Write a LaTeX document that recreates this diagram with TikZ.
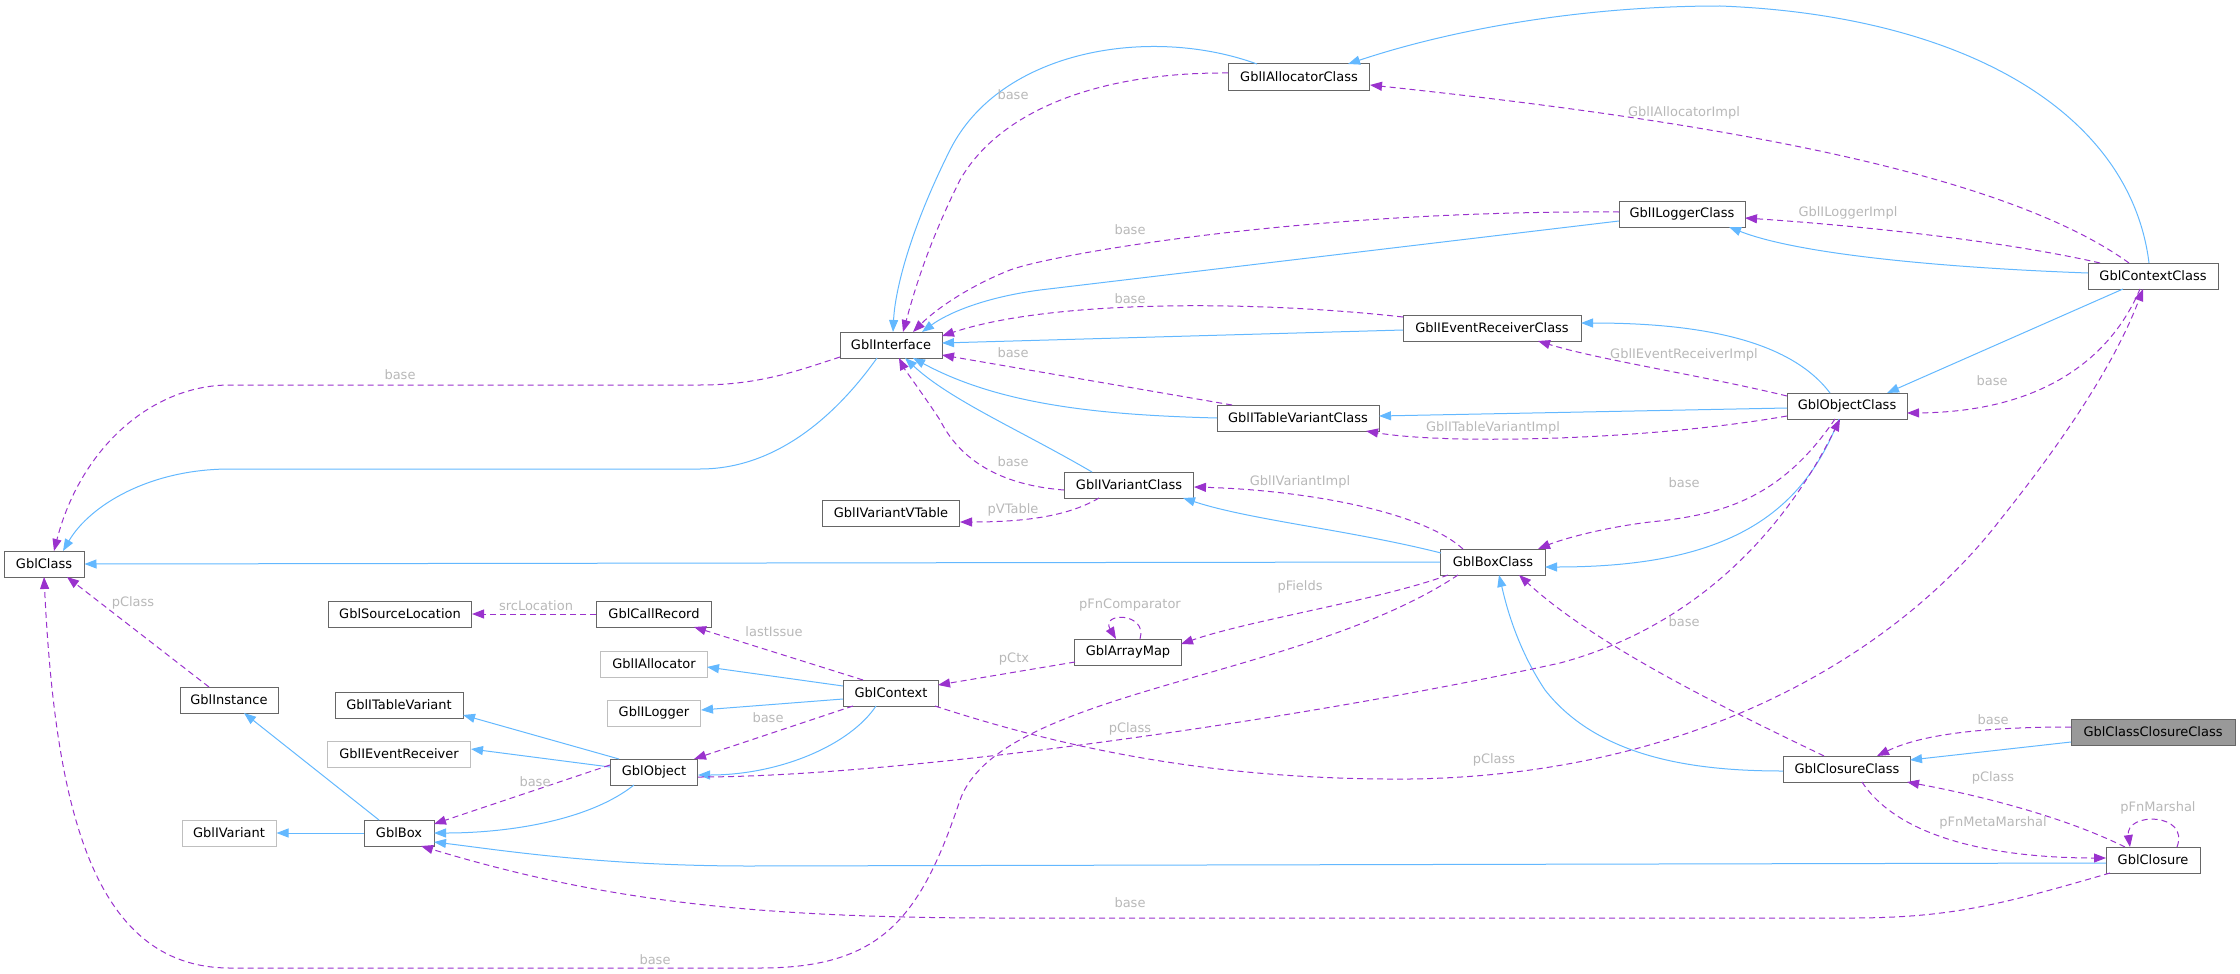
\documentclass[tikz,border=0pt]{standalone}
\usepackage{fontspec}
\setmainfont{DejaVu Sans}
\usetikzlibrary{arrows.meta,calc}
\definecolor{inh}{HTML}{63B8FF}
\definecolor{use}{HTML}{9A32CD}
\definecolor{lbl}{HTML}{B8B8B8}
\definecolor{brd}{HTML}{666666}
\definecolor{lbrd}{HTML}{BFBFBF}
\definecolor{cur}{HTML}{999999}
\begin{document}
\begin{tikzpicture}[x=1pt,y=-1pt,
  box/.style={draw=brd,line width=1pt,fill=white,minimum height=26pt,inner sep=0pt,font=\fontsize{13}{15}\selectfont},
  lbox/.style={box,draw=lbrd},
  cbox/.style={box,fill=cur},
  inhe/.style={draw=inh,line width=1pt,-{Triangle[length=12pt,width=9pt]}},
  usee/.style={draw=use,line width=1pt,dash pattern=on 6pt off 4pt,-{Triangle[length=12pt,width=9pt]}},
  el/.style={text=lbl,font=\fontsize{13}{15}\selectfont,inner sep=1pt}]
\useasboundingbox (0,0) rectangle (2240,974);
% nodes
\node[box,minimum width=80pt] (Class) at (44,564) {GblClass};
\node[box,minimum width=102pt] (Interface) at (891,345) {GblInterface};
\node[box,minimum width=141pt] (IAllocatorClass) at (1299,77) {GblIAllocatorClass};
\node[box,minimum width=126pt] (ILoggerClass) at (1682,214) {GblILoggerClass};
\node[box,minimum width=130pt] (ContextClass) at (2153,276) {GblContextClass};
\node[box,minimum width=178pt] (IEventReceiverClass) at (1492,328) {GblIEventReceiverClass};
\node[box,minimum width=120pt] (ObjectClass) at (1847,406) {GblObjectClass};
\node[box,minimum width=162pt] (ITableVariantClass) at (1298,418) {GblITableVariantClass};
\node[box,minimum width=129pt] (IVariantClass) at (1129,485) {GblIVariantClass};
\node[box,minimum width=137pt] (VTable) at (891,513) {GblIVariantVTable};
\node[box,minimum width=105pt] (BoxClass) at (1493,562) {GblBoxClass};
\node[box,minimum width=143pt] (SourceLocation) at (400,614) {GblSourceLocation};
\node[box,minimum width=115pt] (CallRecord) at (654,614) {GblCallRecord};
\node[box,minimum width=107pt] (ArrayMap) at (1128,652) {GblArrayMap};
\node[lbox,minimum width=107pt] (IAllocator) at (654,664) {GblIAllocator};
\node[lbox,minimum width=93pt] (ILogger) at (654,713) {GblILogger};
\node[box,minimum width=95pt] (Context) at (891,693) {GblContext};
\node[box,minimum width=98pt] (Instance) at (229,700) {GblInstance};
\node[box,minimum width=128pt] (ITableVariant) at (399,705) {GblITableVariant};
\node[lbox,minimum width=143pt] (IEventReceiver) at (399,754) {GblIEventReceiver};
\node[box,minimum width=87pt] (Object) at (654,772) {GblObject};
\node[lbox,minimum width=94pt] (IVariant) at (229,833) {GblIVariant};
\node[box,minimum width=70pt] (Box) at (399,833) {GblBox};
\node[box,minimum width=127pt] (ClosureClass) at (1847,769) {GblClosureClass};
\node[cbox,minimum width=164pt] (ClassClosureClass) at (2153,732) {GblClassClosureClass};
\node[box,minimum width=94pt] (Closure) at (2153,860) {GblClosure};
% inheritance edges
\draw[inhe] ($(Interface)+(-14,13)$) .. controls (840,410) and (780,469) .. (700,469) -- (230,469) .. controls (150,469) and (90,505) .. ($(Class)+(19,-13)$);
\draw[inhe] ($(IAllocatorClass)+(-42,-13)$) .. controls (1150,25) and (1000,50) .. (950,150) .. controls (910,230) and (895,290) .. ($(Interface)+(2,-13)$);
\draw[inhe] ($(ILoggerClass)+(-63,7)$) -- (1040,290) .. controls (980,298) and (945,315) .. ($(Interface)+(31,-13)$);
\draw[inhe] ($(IEventReceiverClass)+(-89,2)$) -- ($(Interface)+(51,-2)$);
\draw[inhe] ($(ITableVariantClass)+(-81,0)$) .. controls (1100,415) and (1000,405) .. ($(Interface)+(22,13)$);
\draw[inhe] ($(IVariantClass)+(-37,-13)$) .. controls (1020,430) and (950,400) .. ($(Interface)+(14,13)$);
\draw[inhe] ($(ContextClass)+(-4,-13)$) .. controls (2130,110) and (1960,15) .. (1720,6) .. controls (1580,6) and (1450,30) .. ($(IAllocatorClass)+(49,-13)$);
\draw[inhe] ($(ContextClass)+(-65,-3)$) .. controls (1950,268) and (1800,255) .. ($(ILoggerClass)+(47,13)$);
\draw[inhe] ($(ContextClass)+(-30,13)$) -- ($(ObjectClass)+(40,-13)$);
\draw[inhe] ($(ObjectClass)+(-17,-13)$) .. controls (1790,340) and (1700,323) .. ($(IEventReceiverClass)+(89,-5)$);
\draw[inhe] ($(ObjectClass)+(-60,2)$) -- ($(ITableVariantClass)+(81,-2)$);
\draw[inhe] ($(ObjectClass)+(-8,13)$) .. controls (1800,520) and (1720,567) .. ($(BoxClass)+(52,5)$);
\draw[inhe] (BoxClass.west) -- (Class.east);
\draw[inhe] ($(BoxClass)+(-52,-9)$) .. controls (1350,530) and (1250,520) .. ($(IVariantClass)+(54,13)$);
\draw[inhe] ($(ClosureClass)+(-64,2)$) .. controls (1700,771) and (1600,760) .. (1545,690) .. controls (1515,645) and (1505,600) .. ($(BoxClass)+(6,13)$);
\draw[inhe] ($(ClassClosureClass)+(-82,10)$) -- ($(ClosureClass)+(63,-9)$);
\draw[inhe] ($(Closure)+(-47,3)$) -- (750,866) .. controls (600,866) and (500,850) .. ($(Box)+(35,9)$);
\draw[inhe] ($(Context)+(-48,-7)$) -- ($(IAllocator)+(53,3)$);
\draw[inhe] ($(Context)+(-48,6)$) -- ($(ILogger)+(47,-3)$);
\draw[inhe] ($(Context)+(-15,13)$) .. controls (850,745) and (780,775) .. ($(Object)+(44,3)$);
\draw[inhe] ($(Object)+(-35,-13)$) -- ($(ITableVariant)+(64,10)$);
\draw[inhe] ($(Object)+(-44,-5)$) -- ($(IEventReceiver)+(72,-5)$);
\draw[inhe] ($(Object)+(-20,13)$) .. controls (590,820) and (510,833) .. ($(Box)+(35,0)$);
\draw[inhe] ($(Box)+(-20,-13)$) -- ($(Instance)+(15,13)$);
\draw[inhe] (Box.west) -- (IVariant.east);
% usage edges
\draw[usee] ($(Interface)+(-51,12)$) .. controls (800,370) and (760,385) .. (700,385) -- (230,385) .. controls (150,385) and (80,450) .. ($(Class)+(10,-13)$);
\node[el] (l1) at (400,375) {base};
\draw[usee] ($(IAllocatorClass)+(-71,-4)$) .. controls (1100,72) and (1000,110) .. (960,180) .. controls (925,250) and (912,300) .. ($(Interface)+(12,-13)$);
\node[el] (l2) at (1013,95) {base};
\draw[usee] ($(ILoggerClass)+(-63,-2)$) .. controls (1300,210) and (1050,255) .. (1010,270) .. controls (960,290) and (930,315) .. ($(Interface)+(22,-13)$);
\node[el] (l3) at (1130,230) {base};
\draw[usee] ($(IEventReceiverClass)+(-89,-11)$) .. controls (1250,300) and (1050,300) .. ($(Interface)+(51,-9)$);
\node[el] (l4) at (1130,299) {base};
\draw[usee] ($(ITableVariantClass)+(-66,-13)$) -- ($(Interface)+(51,10)$);
\node[el] (l5) at (1013,353) {base};
\draw[usee] ($(IVariantClass)+(-65,5)$) .. controls (1000,485) and (960,460) .. (940,420) .. controls (920,390) and (905,370) .. ($(Interface)+(8,13)$);
\node[el] (l6) at (1013,462) {base};
\draw[usee] ($(IVariantClass)+(-30,13)$) .. controls (1070,515) and (1030,522) .. ($(VTable)+(69,9)$);
\node[el] (l7) at (1013,510) {pVTable};
\draw[usee] ($(ContextClass)+(-24,-13)$) .. controls (2000,170) and (1700,120) .. ($(IAllocatorClass)+(71,8)$);
\node[el] (l8) at (1684,113) {GblIAllocatorImpl};
\draw[usee] ($(ContextClass)+(-53,-13)$) .. controls (2000,240) and (1850,225) .. ($(ILoggerClass)+(63,4)$);
\node[el] (l9) at (1848,213) {GblILoggerImpl};
\draw[usee] ($(ContextClass)+(-13,13)$) .. controls (2110,360) and (2040,412) .. ($(ObjectClass)+(60,7)$);
\node[el] (l10) at (1992,381) {base};
\draw[usee] ($(ObjectClass)+(-60,-10)$) .. controls (1700,375) and (1600,360) .. ($(IEventReceiverClass)+(46,13)$);
\node[el] (l11) at (1684,355) {GblIEventReceiverImpl};
\draw[usee] ($(ObjectClass)+(-60,10)$) .. controls (1650,440) and (1450,445) .. ($(ITableVariantClass)+(68,13)$);
\node[el] (l12) at (1493,428) {GblITableVariantImpl};
\draw[usee] ($(ObjectClass)+(-12,13)$) .. controls (1780,500) and (1720,515) .. (1650,522) .. controls (1600,528) and (1560,540) .. ($(BoxClass)+(45,-13)$);
\node[el] (l13) at (1684,483) {base};
\draw[usee] ($(BoxClass)+(-30,-13)$) .. controls (1420,510) and (1300,490) .. ($(IVariantClass)+(65,2)$);
\node[el] (l14) at (1300,482) {GblIVariantImpl};
\draw[usee] ($(BoxClass)+(-45,13)$) .. controls (1380,600) and (1250,620) .. ($(ArrayMap)+(53,-8)$);
\node[el] (l15) at (1300,587) {pFields};
\draw[usee] ($(BoxClass)+(-35,13)$) .. controls (1300,680) and (1000,690) .. (960,800) .. controls (920,920) and (880,968) .. (760,968) -- (230,968) .. controls (90,968) and (55,800) .. ($(Class)+(0,13)$);
\node[el] (l16) at (655,960) {base};
\draw[usee] ($(ClosureClass)+(-23,-13)$) .. controls (1750,720) and (1600,650) .. ($(BoxClass)+(26,13)$);
\node[el] (l17) at (1684,622) {base};
\draw[usee] ($(ClassClosureClass)+(-82,-5)$) .. controls (1980,727) and (1920,735) .. ($(ClosureClass)+(30,-13)$);
\node[el] (l18) at (1993,720) {base};
\draw[usee] ($(ClosureClass)+(15,13)$) .. controls (1900,840) and (2000,858) .. ($(Closure)+(-47,-2)$);
\node[el] (l19) at (1993,823) {pFnMetaMarshal};
\draw[usee] ($(Closure)+(-28,-13)$) .. controls (2050,810) and (1950,790) .. ($(ClosureClass)+(60,13)$);
\node[el] (l20) at (1993,778) {pClass};
\draw[usee] ($(Closure)+(24,-13)$) .. controls (2190,812) and (2125,812) .. ($(Closure)+(-23,-13)$);
\node[el] (l21) at (2158,808) {pFnMarshal};
\draw[usee] ($(ArrayMap)+(12,-13)$) .. controls (1148,612) and (1100,612) .. ($(ArrayMap)+(-12,-13)$);
\node[el] (l22) at (1130,605) {pFnComparator};
\draw[usee] ($(ArrayMap)+(-53,10)$) -- ($(Context)+(47,-8)$);
\node[el] (l23) at (1014,659) {pCtx};
\draw[usee] ($(Context)+(-28,-13)$) -- ($(CallRecord)+(40,13)$);
\node[el] (l24) at (774,632) {lastIssue};
\draw[usee] (CallRecord.west) -- (SourceLocation.east);
\node[el] (l25) at (536,606) {srcLocation};
\draw[usee] ($(Instance)+(-20,-13)$) -- ($(Class)+(23,13)$);
\node[el] (l26) at (133,603) {pClass};
\draw[usee] ($(Context)+(-38,13)$) -- ($(Object)+(40,-13)$);
\node[el] (l27) at (768,718) {base};
\draw[usee] ($(Object)+(-44,-7)$) -- ($(Box)+(35,-9)$);
\node[el] (l28) at (535,782) {base};
\draw[usee] ($(Closure)+(-43,13)$) .. controls (2000,905) and (1950,918) .. (1850,918) -- (1000,918) .. controls (750,918) and (600,900) .. ($(Box)+(22,13)$);
\node[el] (l29) at (1130,903) {base};
\draw[usee] ($(Object)+(44,5)$) .. controls (900,777) and (1300,720) .. (1560,663) .. controls (1720,620) and (1800,500) .. ($(ObjectClass)+(-7,13)$);
\node[el] (l30) at (1130,729) {pClass};
\draw[usee] ($(Context)+(44,13)$) .. controls (1100,760) and (1250,780) .. (1410,779) .. controls (1700,775) and (1900,650) .. (2000,520) .. controls (2080,420) and (2120,350) .. ($(ContextClass)+(-10,13)$);
\node[el] (l31) at (1494,760) {pClass};
\end{tikzpicture}
\end{document}
